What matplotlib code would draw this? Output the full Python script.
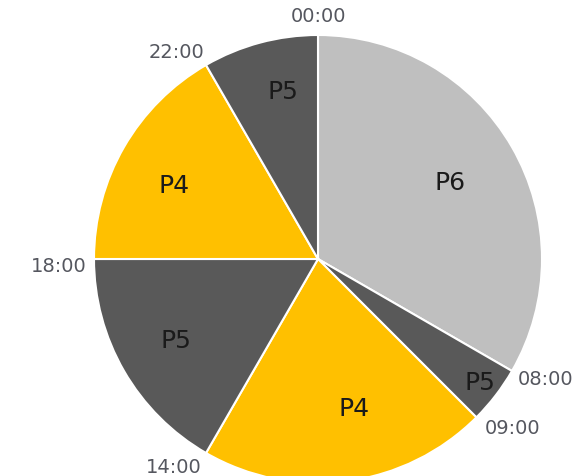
import matplotlib
matplotlib.use("Agg")
import matplotlib.pyplot as plt
import numpy as np

# data: 24h schedule, clockwise from 00:00
periods = ["P6", "P5", "P4", "P5", "P4", "P5"]
hours = [8, 1, 5, 4, 4, 2]
times = ["00:00", "08:00", "09:00", "14:00", "18:00", "22:00"]

colors = {"P6": "#bfbfbf", "P5": "#595959", "P4": "#ffc000"}

# label placement per wedge: (fraction of radius, angle shift in degrees)
label_pos = [(0.68, 0), (0.91, 0), (0.69, -6), (0.73, 0), (0.72, -3), (0.76, 3)]
time_off = [(0, 9, "center", "bottom"), (6, -9, "left", "center"),
            (8, -11, "left", "center"), (-32, -15, "center", "center"),
            (-7, -7, "right", "center"), (-2, 13, "right", "center")]

fig = plt.figure(figsize=(5.84, 4.76), dpi=100)
ax = fig.add_axes([0, 0, 1, 1])

cx, cy, r = 318, 476 - 259, 224
ax.pie(hours, colors=[colors[p] for p in periods], startangle=90,
       counterclock=False, center=(cx, cy), radius=r,
       wedgeprops=dict(edgecolor="white", linewidth=1.5))
ax.set_xlim(0, 584)
ax.set_ylim(0, 476)
ax.set_aspect("equal")
ax.axis("off")

# period labels
edges = np.concatenate([[0], np.cumsum(hours)]) / 24 * 360
for i, p in enumerate(periods):
    f, shift = label_pos[i]
    mid = np.radians((edges[i] + edges[i + 1]) / 2 + shift)
    d = f * r
    ax.text(cx + d * np.sin(mid), cy + d * np.cos(mid), p, fontsize=18,
            ha="center", va="center", color="#1a1a1a")

# time labels at the boundaries
for i, t in enumerate(times):
    a = np.radians(edges[i])
    x = cx + r * np.sin(a)
    y = cy + r * np.cos(a)
    dx, dy, ha, va = time_off[i]
    ax.text(x + dx, y + dy, t, fontsize=14, ha=ha, va=va, color="#55575f")

fig.savefig("out.png", dpi=100)
